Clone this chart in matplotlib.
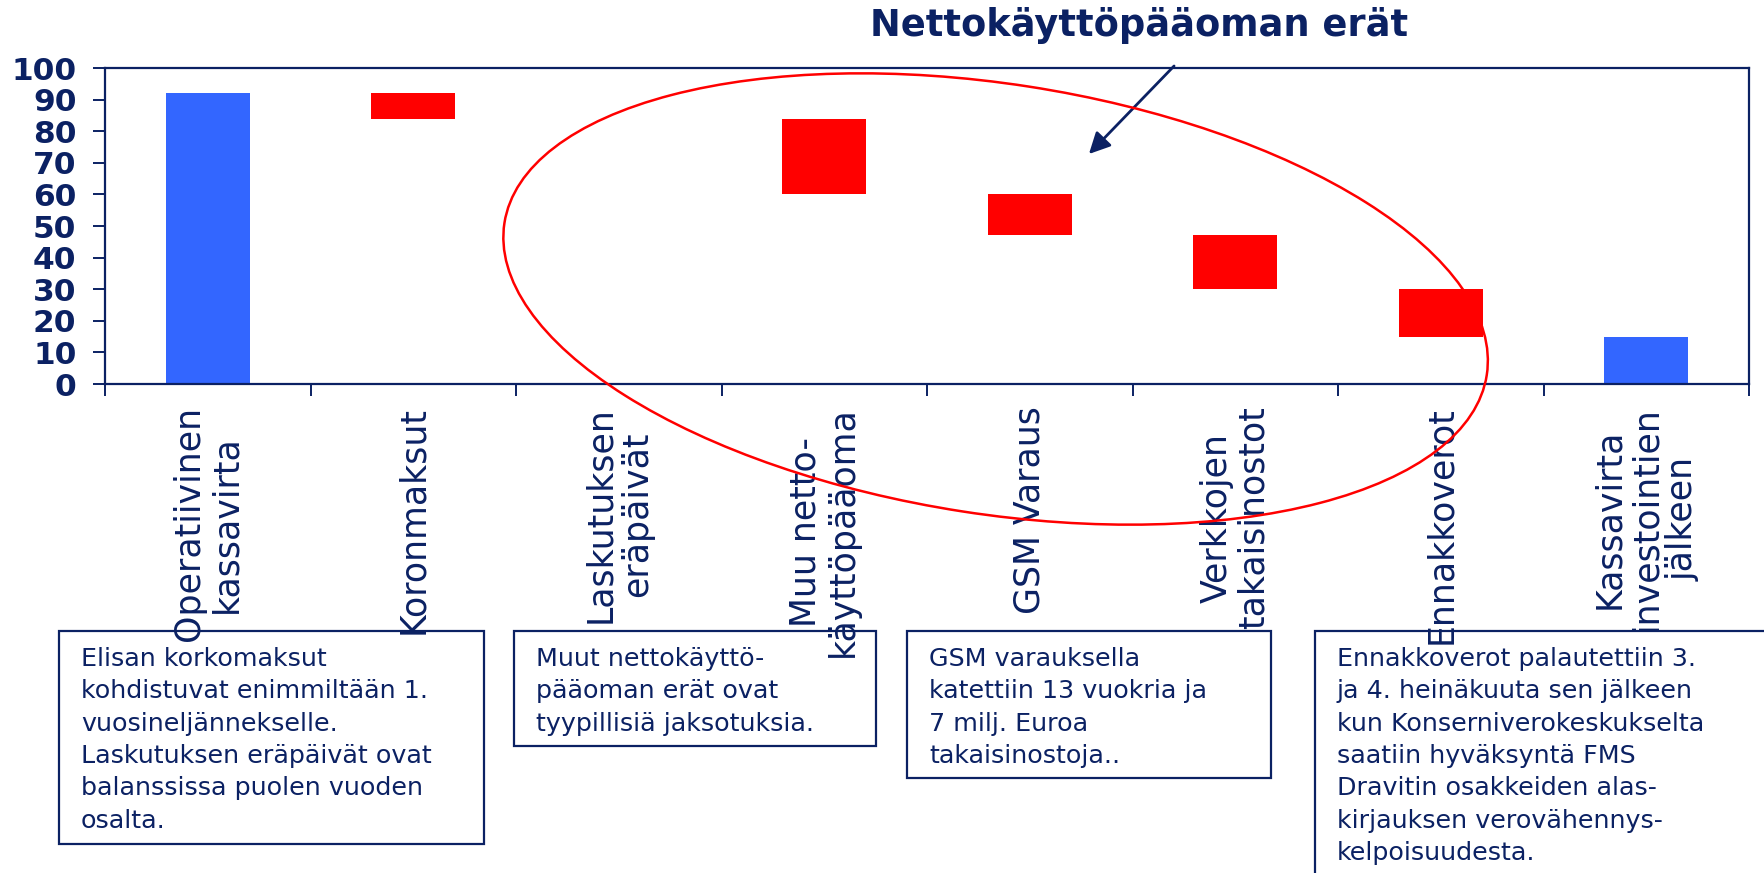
import numpy as np
import matplotlib.pyplot as plt
from matplotlib.patches import Rectangle, Ellipse

W, H = 1764, 873
navy = '#0b2163'
blue = '#3366ff'
red = '#ff0000'

# data
categories = ['Operatiivinen\nkassavirta', 'Koronmaksut', 'Laskutuksen\neräpäivät',
              'Muu netto-\nkäyttöpääoma', 'GSM Varaus', 'Verkkojen\ntakaisinostot',
              'Ennakkoverot', 'Kassavirta\ninvestointien\njälkeen']
changes = [92, -8, 0, -24, -13, -17, -15, 15]
is_total = [True, False, False, False, False, False, False, True]
yticks = [0, 10, 20, 30, 40, 50, 60, 70, 80, 90, 100]

title = 'Nettokäyttöpääoman erät'
notes = [
    'Elisan korkomaksut\nkohdistuvat enimmiltään 1.\nvuosineljännekselle.\nLaskutuksen eräpäivät ovat\nbalanssissa puolen vuoden\nosalta.',
    'Muut nettokäyttö-\npääoman erät ovat\ntyypillisiä jaksotuksia.',
    'GSM varauksella\nkatettiin 13 vuokria ja\n7 milj. Euroa\ntakaisinostoja..',
    'Ennakkoverot palautettiin 3.\nja 4. heinäkuuta sen jälkeen\nkun Konserniverokeskukselta\nsaatiin hyväksyntä FMS\nDravitin osakkeiden alas-\nkirjauksen verovähennys-\nkelpoisuudesta.',
]

# waterfall bottoms / heights
bottoms, heights, colors = [], [], []
level = 0
for c, t in zip(changes, is_total):
    if t:
        bottoms.append(0)
        heights.append(c)
        level = c
        colors.append(blue)
    else:
        new = level + c
        bottoms.append(min(level, new))
        heights.append(abs(c))
        level = new
        colors.append(red)


def fx(x):
    return x / W


def fy(y):
    return 1 - y / H


fig = plt.figure(figsize=(W / 100, H / 100), dpi=100)
ax = fig.add_axes([fx(105), fy(384), (1749 - 105) / W, (384 - 68) / H])

x = np.arange(len(categories)) + 0.5
ax.bar(x, heights, bottom=bottoms, width=0.41, color=colors, linewidth=0)

ax.set_xlim(0, len(categories))
ax.set_ylim(0, 100)
ax.set_yticks(yticks)
ax.set_xticks(np.arange(len(categories) + 1))
ax.set_xticklabels([])
ax.set_xticks(x, minor=True)
ax.set_xticklabels(categories, minor=True, rotation=90, fontsize=25, color=navy,
                   va='top', ha='center', multialignment='center', linespacing=1.1)
ax.tick_params(axis='x', which='minor', length=0, pad=16)
ax.tick_params(axis='both', which='major', length=8.6, width=1.4, color=navy)
ax.tick_params(axis='y', pad=12, labelsize=22.5, labelcolor=navy)
for lab in ax.get_yticklabels():
    lab.set_fontweight('bold')
for s in ax.spines.values():
    s.set_color(navy)
    s.set_linewidth(1.6)

# title and arrow
fig.text(fx(1139), fy(25), title, ha='center', va='center', fontsize=26.5,
         fontweight='bold', color=navy)
ax.annotate('', xy=(1087, H - 156), xytext=(1176, H - 64),
            xycoords='figure pixels', textcoords='figure pixels',
            arrowprops=dict(arrowstyle='-|>', color=navy, lw=2,
                            mutation_scale=32), annotation_clip=False)

# ellipse around working capital items
ell = Ellipse((995.6 / 100, (H - 299) / 100), 9.94, 4.30, angle=-8.8,
              transform=fig.dpi_scale_trans, fill=False, ec=red, lw=1.8)
fig.add_artist(ell)

# note boxes
boxes = [(59, 631, 484, 844), (514, 631, 876, 746), (907, 631, 1271, 778),
         (1315, 631, 1800, 900)]
for (x0, y0, x1, y1), note in zip(boxes, notes):
    fig.add_artist(Rectangle((fx(x0), fy(y1)), (x1 - x0) / W, (y1 - y0) / H,
                             transform=fig.transFigure, fill=False, ec=navy,
                             lw=1.6, clip_on=False))
    fig.text(fx(x0 + 22), fy(y0 + 16), note, ha='left', va='top', fontsize=18.3,
             linespacing=1.44, color=navy)

fig.savefig('out.png', dpi=100)
